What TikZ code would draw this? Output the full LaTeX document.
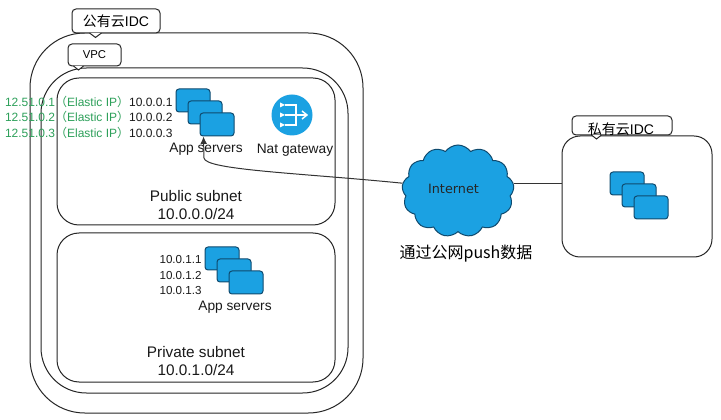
\documentclass[tikz,border=0pt]{standalone}
\usepackage{fontspec}
\setmainfont{Liberation Sans}
\newfontfamily\cjk{Noto Sans CJK SC}
\newfontfamily\dejavu{DejaVu Sans}
\usetikzlibrary{shapes.symbols,arrows.meta,calc,fit}
\definecolor{srvfill}{HTML}{1BA1E2}
\definecolor{srvline}{HTML}{0F4A6E}
\definecolor{ipgreen}{HTML}{2DA05A}
\begin{document}
\begin{tikzpicture}[x=0.75pt,y=-0.75pt,line width=0.75pt,
  cont/.style={draw=black!85, inner sep=0pt},
  tagbox/.style={draw=black!85, fill=white, rounded corners=3pt, inner sep=0pt},
  srv/.style={draw=srvline, fill=srvfill, rounded corners=2.25pt, minimum width=25.5pt, minimum height=17.25pt, inner sep=0pt},
  lbl/.style={font=\fontsize{10.3}{12}\selectfont, inner sep=0pt, text=black!90},
  big/.style={font=\fontsize{11.5}{14}\selectfont, inner sep=0pt, align=center, text=black!90},
  ip/.style={font=\fontsize{8.7}{10}\selectfont, inner sep=0pt, anchor=east, text=black!90},
  gip/.style={font=\fontsize{9}{10}\selectfont, inner sep=0pt, anchor=east, text=black!90},
  conn/.style={draw=black!80, line width=0.75pt},
]
\useasboundingbox[fill=white] (0,0) rectangle (721,420);

% containers
\node[cont, rounded corners=41pt, fit={(30,33)(363,413)}] (pubidc) {};
\node[cont, rounded corners=34pt, fit={(41,68)(348,393)}] (vpc) {};
\node[cont, rounded corners=16.5pt, fit={(57,78)(335,225)}] (pubnet) {};
\node[cont, rounded corners=16.5pt, fit={(57,233)(335,382)}] (privnet) {};
\node[cont, rounded corners=13.5pt, fit={(562,136)(712,257)}] (prividc) {};

% tags
\node[tagbox, minimum width=66pt, minimum height=18pt] (tpub) at (116,21) {};
\draw[draw=black!85, fill=white] ($(tpub.south west)+(18,-0.5)$) -- ($(tpub.south west)+(24,4)$) -- ($(tpub.south west)+(30,-0.5)$);
\node[font=\fontsize{10.5}{12}\selectfont, inner sep=0pt] (tpubtxt) at (116,21) {{\cjk 公有云}IDC};
\node[tagbox, minimum width=39.75pt, minimum height=16.5pt] (tvpc) at (94.5,55) {};
\draw[draw=black!85, fill=white] ($(tvpc.south west)+(6,-0.5)$) -- ($(tvpc.south west)+(11,3.5)$) -- ($(tvpc.south west)+(16,-0.5)$);
\node[font=\fontsize{8.5}{10}\selectfont, inner sep=0pt] (tvpctxt) at (94.5,55) {VPC};
\node[tagbox, minimum width=75pt, minimum height=14.25pt] (tpriv) at (622,125.5) {};
\draw[draw=black!85, fill=white] ($(tpriv.south west)+(20,-0.5)$) -- ($(tpriv.south west)+(25,3.5)$) -- ($(tpriv.south west)+(30,-0.5)$);
\node[font=\fontsize{10.5}{12}\selectfont, inner sep=0pt] (tprivtxt) at (621,129) {{\cjk 私有云}IDC};

% public subnet servers
\node[srv] (ps1) at (193,100.5) {};
\node[srv] (ps2) at (205,112.5) {};
\node[srv] (ps3) at (217,124.5) {};
\node[lbl] (psl) at (206,149) {App servers};

% public IPs
\node[gip] (ip1) at (173,101.5) {\textcolor{ipgreen}{12.51.0.1{\cjk （}Elastic IP{\cjk ）}}10.0.0.1};
\node[gip] (ip2) at (173,117) {\textcolor{ipgreen}{12.51.0.2{\cjk （}Elastic IP{\cjk ）}}10.0.0.2};
\node[gip] (ip3) at (173,132.5) {\textcolor{ipgreen}{12.51.0.3{\cjk （}Elastic IP{\cjk ）}}10.0.0.3};

% nat gateway
\node[circle, fill=srvfill, minimum size=30.75pt, inner sep=0pt] (nat) at (292,115) {};
\begin{scope}[shift={(nat.center)}, draw=white, fill=white, line width=1.1pt]
  \fill (-12,-12.5) -- (-7,-10) -- (-12,-7.5) -- cycle;
  \fill (-12,-2.5) -- (-7,0) -- (-12,2.5) -- cycle;
  \fill (-12,7.5) -- (-7,10) -- (-12,12.5) -- cycle;
  \draw (-7,-10) -- (4,-10) -- (4,10) -- (-7,10);
  \draw (-7,0) -- (14,0);
  \draw (10,-4) -- (15,0) -- (10,4);
\end{scope}
\node[lbl] (natl) at (295,150) {Nat gateway};

\node[big] (pubtxt) at (196,205) {Public subnet\\10.0.0.0/24};

% private subnet servers
\node[srv] (qs1) at (222,258.5) {};
\node[srv] (qs2) at (234,270.5) {};
\node[srv] (qs3) at (246,282.5) {};
\node[lbl] (qsl) at (235,307) {App servers};
\node[ip] (q1) at (202,260) {10.0.1.1};
\node[ip] (q2) at (202,275.5) {10.0.1.2};
\node[ip] (q3) at (202,291) {10.0.1.3};
\node[big] (privtxt) at (196,361) {Private subnet\\10.0.1.0/24};

% private IDC servers
\node[srv] (rs1) at (627,183.5) {};
\node[srv] (rs2) at (639,195.5) {};
\node[srv] (rs3) at (651,207.5) {};

% internet cloud
\node[cloud, cloud puffs=13, cloud puff arc=110, aspect=1.2, draw=srvline, fill=srvfill, minimum width=84pt, minimum height=69pt, inner sep=0pt] (inet) at (458,191) {};
\node[font=\dejavu\fontsize{9.6}{11}\selectfont, inner sep=0pt, text=black!85] (inettxt) at (453.5,189) {Internet};
\node[font=\cjk\fontsize{12}{14}\selectfont, inner sep=0pt] (pushtxt) at (466,253.5) {通过公网push数据};

% connectors
\coordinate (tip) at ($(ps3.south west)+(4,0)$);
\draw[conn, -{Latex[length=5.5pt,width=5pt]}] (inet.172) .. controls (300,173) and (205,170) .. (204,158) -- (tip);
\draw[conn] (inet.8) -- (inet.8 -| prividc.west);
\end{tikzpicture}
\end{document}
